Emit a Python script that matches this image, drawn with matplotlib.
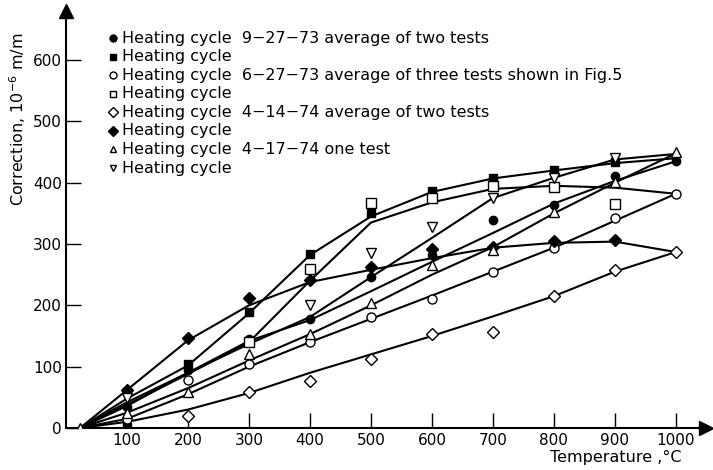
import numpy as np
import matplotlib.pyplot as plt

nan = np.nan
temps = [100, 200, 300, 400, 500, 600, 700, 800, 900, 1000]
curve_t = [23] + temps

# measured points per heating cycle (10^-6 m/m)
filled_circle = [34, 95, 145, 178, 246, 282, 340, 364, 411, 435]
filled_square = [2, 104, 189, 284, 350, 387, 408, 420, 434, nan]
open_circle = [15, 78, 104, 140, 181, 210, 254, 294, 343, 382]
open_square = [nan, nan, 140, 259, 367, 375, 395, 393, 365, nan]
open_diamond = [nan, 20, 59, 77, 113, 153, 157, 215, 258, 287]
filled_diamond = [62, 147, 212, 241, 262, 292, 296, 305, 307, nan]
open_tri_up = [24, 59, 121, 153, 204, 266, 290, 352, 401, 450]
open_tri_down = [49, nan, nan, 200, 286, 328, 375, 408, 440, nan]

# faired curves drawn through the points
curve_square = [0, 48, 102, 187, 282, 345, 385, 407, 420, 432, 440]
curve_fdiamond = [0, 62, 143, 200, 238, 258, 277, 294, 302, 304, 287]
curve_osquare = [0, 38, 88, 140, 240, 335, 368, 390, 395, 392, 382]
curve_circle = [0, 36, 90, 142, 176, 223, 271, 318, 366, 403, 435]
curve_tdown = [0, 42, 90, 137, 181, 246, 310, 375, 408, 438, 447]
curve_tup = [0, 25, 65, 110, 153, 200, 250, 295, 350, 400, 448]
curve_ocircle = [0, 15, 55, 100, 140, 178, 216, 255, 294, 338, 382]
curve_odiamond = [0, 10, 30, 57, 90, 120, 150, 182, 215, 255, 287]

legend = [
    ('o', 'k', 'Heating cycle  9\u221227\u221273 average of two tests'),
    ('s', 'k', 'Heating cycle'),
    ('o', 'w', 'Heating cycle  6\u221227\u221273 average of three tests shown in Fig.5'),
    ('s', 'w', 'Heating cycle'),
    ('D', 'w', 'Heating cycle  4\u221214\u221274 average of two tests'),
    ('D', 'k', 'Heating cycle'),
    ('^', 'w', 'Heating cycle  4\u221217\u221274 one test'),
    ('v', 'w', 'Heating cycle'),
]

plt.rcParams['font.family'] = ['DejaVu Sans']
fig = plt.figure(figsize=(7.13, 4.70), dpi=100)
ax = fig.add_axes([0.0926, 0.0894, 0.898, 0.887])

for c in [curve_square, curve_fdiamond, curve_osquare, curve_circle,
          curve_tdown, curve_tup, curve_ocircle, curve_odiamond]:
    ax.plot(curve_t, c, color='k', lw=1.5, zorder=2)

series = [
    (filled_circle, 'o', 'k', 6),
    (filled_square, 's', 'k', 6),
    (open_circle, 'o', 'w', 6.5),
    (open_square, 's', 'w', 6.5),
    (open_diamond, 'D', 'w', 6),
    (filled_diamond, 'D', 'k', 6),
    (open_tri_up, '^', 'w', 7),
    (open_tri_down, 'v', 'w', 7),
]
for vals, m, fc, ms in series:
    ax.plot(temps, vals, ls='none', marker=m, mfc=fc, mec='k', mew=1,
            ms=ms, zorder=3)
ax.plot([23], [0], ls='none', marker='^', mfc='w', mec='k', mew=1, ms=7, zorder=3)

ax.set_xlim(0, 1050)
ax.set_ylim(0, 680)
for s in ['top', 'right']:
    ax.spines[s].set_visible(False)
ax.spines['left'].set_linewidth(1.5)
ax.spines['bottom'].set_linewidth(1.5)
ax.set_xticks(temps)
ax.set_yticks([0, 100, 200, 300, 400, 500, 600])
ax.tick_params(direction='in', length=11, width=1, labelsize=11)
ax.tick_params(axis='y', pad=3)

# arrow heads
ax.plot(1.0, 0, marker='>', ms=10, color='k', transform=ax.transAxes, clip_on=False)
ax.plot(0, 1.0, marker='^', ms=10, color='k', transform=ax.transAxes, clip_on=False)

ax.text(1010, -48, 'Temperature ,\u00b0C', ha='right', va='center', fontsize=11.5)
ax.text(-0.075, 0.74, 'Correction, $10^{-6}$ m/m', rotation=90, ha='center',
        va='center', fontsize=11.5, transform=ax.transAxes)

y0 = 0.935
for i, (m, fc, lab) in enumerate(legend):
    yy = y0 - i * 0.0445
    ax.plot(0.073, yy, marker=m, mfc=fc, mec='k', mew=1, ms=5,
            transform=ax.transAxes, clip_on=False)
    ax.text(0.087, yy, lab, fontsize=11.5, va='center', transform=ax.transAxes)

fig.savefig('out.png', dpi=100)
